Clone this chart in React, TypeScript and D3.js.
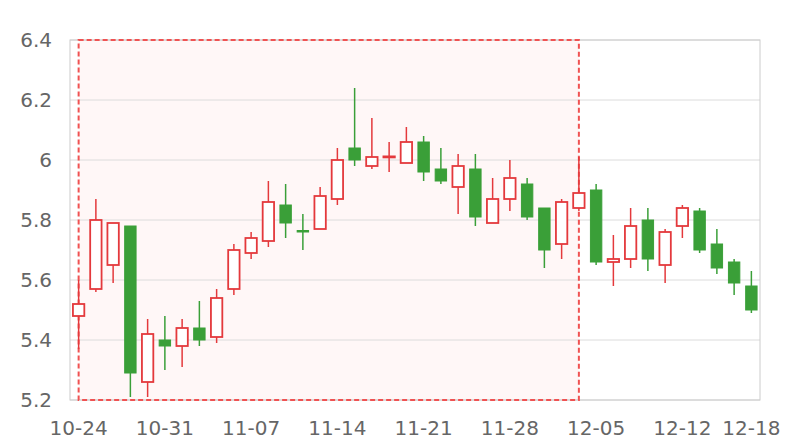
import React from "react";
import * as d3 from "d3";

const dates = [
  "10-24","10-25","10-26","10-27","10-28",
  "10-31","11-01","11-02","11-03","11-04",
  "11-07","11-08","11-09","11-10","11-11",
  "11-14","11-15","11-16","11-17","11-18",
  "11-21","11-22","11-23","11-24","11-25",
  "11-28","11-29","11-30","12-01","12-02",
  "12-05","12-06","12-07","12-08","12-09",
  "12-12","12-13","12-14","12-15","12-18",
];
const opens = [5.48,5.57,5.65,5.78,5.26,5.40,5.38,5.44,5.41,5.57,5.69,5.73,5.85,5.765,5.77,5.87,6.04,5.98,6.01,5.99,6.06,5.97,5.91,5.97,5.79,5.87,5.92,5.84,5.72,5.84,5.90,5.66,5.67,5.80,5.65,5.78,5.83,5.72,5.66,5.58];
const closes = [5.52,5.80,5.79,5.29,5.42,5.38,5.44,5.40,5.54,5.70,5.74,5.86,5.79,5.76,5.88,6.00,6.00,6.01,6.012,6.06,5.96,5.93,5.98,5.81,5.87,5.94,5.81,5.70,5.86,5.89,5.66,5.67,5.78,5.67,5.76,5.84,5.70,5.64,5.59,5.50];
const highs = [5.60,5.87,5.79,5.78,5.47,5.48,5.47,5.53,5.57,5.72,5.76,5.93,5.92,5.82,5.91,6.04,6.24,6.14,6.06,6.11,6.08,6.04,6.02,6.02,5.94,6.00,5.94,5.84,5.87,6.01,5.92,5.75,5.84,5.84,5.77,5.85,5.84,5.77,5.67,5.63];
const lows = [5.37,5.56,5.59,5.21,5.21,5.30,5.31,5.38,5.39,5.55,5.67,5.71,5.74,5.70,5.77,5.85,5.98,5.97,5.96,5.99,5.93,5.92,5.82,5.78,5.79,5.83,5.80,5.64,5.67,5.83,5.65,5.58,5.64,5.63,5.59,5.74,5.69,5.62,5.55,5.49];
const yTicks = [5.2,5.4,5.6,5.8,6,6.2,6.4];
const xTickLabels = ["10-24","10-31","11-07","11-14","11-21","11-28","12-05","12-12","12-18"];
const highlightStart = "10-24";
const highlightEnd = "12-02";

const W = 800, H = 440;
const L = 70, R = 760, T = 40, B = 400;
const UP = "#e4393c";
const DOWN = "#3a9f38";
const FONT = "DejaVu Sans, sans-serif";

export default function App() {
  const x = d3.scaleBand<string>().domain(dates).range([L, R]).padding(0);
  const y = d3.scaleLinear().domain([5.2, 6.4]).range([B, T]);
  const bw = x.bandwidth();
  const cx = (d: string) => (x(d) as number) + bw / 2;
  const bodyW = bw * 0.66;
  const hx0 = cx(highlightStart), hx1 = cx(highlightEnd);

  return (
    <svg width={W} height={H} style={{ position: "absolute", left: 0, top: 0 }}>
      <rect x={0} y={0} width={W} height={H} fill="#fff" />
      <rect x={hx0} y={T} width={hx1 - hx0} height={B - T} fill="#fff7f7" />
      {yTicks.map((t) => (
        <line key={"g" + t} x1={L} x2={R} y1={y(t)} y2={y(t)} stroke="#dcdcdc" strokeWidth={1} />
      ))}
      <rect x={L} y={T} width={R - L} height={B - T} fill="none" stroke="#cccccc" strokeWidth={1} />
      <rect x={hx0} y={T} width={hx1 - hx0} height={B - T} fill="none" stroke="#f05252" strokeWidth={2} strokeDasharray="5,3" />
      {yTicks.map((t) => (
        <text key={"yl" + t} x={52} y={y(t)} textAnchor="end" dominantBaseline="central" fontSize={20} fill="#666" fontFamily={FONT}>
          {d3.format("~g")(t)}
        </text>
      ))}
      {xTickLabels.map((d) => (
        <text key={"xl" + d} x={cx(d)} y={435} textAnchor="middle" fontSize={20} fill="#666" fontFamily={FONT}>
          {d}
        </text>
      ))}
      {dates.map((d, i) => {
        const o = opens[i], c = closes[i], h = highs[i], l = lows[i];
        const up = c >= o;
        const col = up ? UP : DOWN;
        const top = y(Math.max(o, c));
        const bot = y(Math.min(o, c));
        const px = cx(d);
        return (
          <g key={d}>
            <line x1={px} x2={px} y1={y(h)} y2={y(l)} stroke={col} strokeWidth={1.5} />
            <rect x={px - bodyW / 2} y={top} width={bodyW} height={Math.max(bot - top, 1)}
              fill={up ? "#fff" : col} stroke={col} strokeWidth={up ? 1.8 : 1} />
          </g>
        );
      })}
    </svg>
  );
}
